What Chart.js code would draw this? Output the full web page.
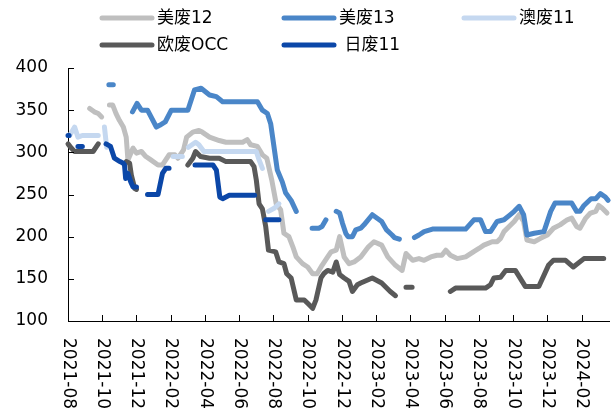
<!DOCTYPE html>
<html><head><meta charset="utf-8">
<script src="https://cdn.jsdelivr.net/npm/chart.js@4"></script>
<style>html,body{margin:0;padding:0;background:#fff}</style>
</head><body>
<canvas id="c" width="614" height="419" style="display:block;width:614px;height:419px"></canvas>
<script>
// ---------- data ----------
const seriesNames = ['美废12', '美废13', '澳废11', '欧废OCC', ' 日废11'];
const xTickLabels = ['2021-08','2021-10','2021-12','2022-02','2022-04','2022-06','2022-08','2022-10','2022-12','2023-02','2023-04','2023-06','2023-08','2023-10','2023-12','2024-02'];
const yTickValues = [100, 150, 200, 250, 300, 350, 400];

const us12Dates = ['2021-09-09','2021-09-17','2021-09-24','2021-09-30','2021-10-08',
 '2021-10-14','2021-10-20','2021-10-26','2021-11-01','2021-11-08','2021-11-13','2021-11-16','2021-11-25','2021-12-01','2021-12-10','2021-12-18','2021-12-27',
 '2022-01-09','2022-01-17','2022-01-23','2022-01-29','2022-02-08','2022-02-13','2022-02-22','2022-02-27','2022-03-10','2022-03-21','2022-03-27','2022-04-09','2022-04-26',
 '2022-05-08','2022-06-07','2022-06-15','2022-06-21','2022-07-03','2022-07-12','2022-07-20','2022-07-29','2022-08-06','2022-08-14','2022-08-20','2022-08-29',
 '2022-09-05','2022-09-11','2022-09-22','2022-10-01','2022-10-10','2022-10-18','2022-10-27','2022-11-06','2022-11-12','2022-11-21','2022-11-27','2022-12-05',
 '2022-12-14','2022-12-23','2023-01-04','2023-01-18','2023-01-28','2023-02-10','2023-02-20','2023-03-05','2023-03-17','2023-03-24','2023-04-05','2023-04-16',
 '2023-04-25','2023-05-07','2023-05-18','2023-05-27','2023-06-03','2023-06-11','2023-06-23','2023-07-08','2023-07-22','2023-08-01','2023-08-10','2023-08-25',
 '2023-09-03','2023-09-09','2023-09-15','2023-09-24','2023-10-03','2023-10-12','2023-10-20','2023-10-26','2023-11-08','2023-11-19','2023-12-01','2023-12-12',
 '2023-12-24','2024-01-06','2024-01-14','2024-01-23','2024-01-29','2024-02-08','2024-02-16','2024-02-25','2024-03-01','2024-03-07','2024-03-16'];
const us12Values = [352,348,346,342,null,
 356,356,346,338,330,318,291,305,299,301,295,291,
 285,285,291,297,297,293,303,318,324,326,324,318,314,
 312,312,315,309,307,297,293,267,239,232,204,200,
 188,176,168,164,156,156,166,176,182,184,200,176,
 168,170,176,188,194,190,176,166,160,180,172,174,
 172,176,178,178,184,178,174,176,182,186,190,194,
 194,198,206,212,218,226,218,196,194,198,202,210,
 214,220,222,212,210,222,228,230,237,234,228];

const us13Dates = ['2021-10-13','2021-10-21','2021-11-01',
 '2021-11-24','2021-12-02','2021-12-10','2021-12-21','2022-01-06','2022-01-12','2022-01-22','2022-02-02','2022-03-01','2022-03-13','2022-03-25',
 '2022-04-09','2022-04-21','2022-05-02','2022-07-03','2022-07-12','2022-07-21','2022-07-27','2022-08-08','2022-08-17','2022-08-23','2022-09-02','2022-09-11','2022-09-25',
 '2022-10-09','2022-10-21','2022-10-27','2022-11-03','2022-11-12',
 '2022-11-21','2022-11-27','2022-12-02','2022-12-08','2022-12-12','2022-12-20','2022-12-26','2023-01-04','2023-01-10','2023-01-25','2023-02-10','2023-02-18',
 '2023-02-27','2023-03-03','2023-03-12','2023-03-25',
 '2023-04-08','2023-04-16','2023-04-25','2023-05-10','2023-07-08','2023-07-23','2023-08-04','2023-08-13','2023-08-22','2023-09-03','2023-09-15','2023-09-24',
 '2023-10-03','2023-10-12','2023-10-20','2023-10-26','2023-11-08','2023-11-25','2023-12-07','2023-12-15','2024-01-14','2024-01-23','2024-01-29','2024-02-05',
 '2024-02-17','2024-02-25','2024-03-04','2024-03-13','2024-03-18'];
const us13Values = [380,380,null,
 348,358,350,350,330,332,336,350,350,374,376,
 368,366,360,360,350,346,334,279,265,252,243,230,null,
 210,210,212,220,null,
 230,228,216,204,200,200,208,210,214,226,218,208,
 202,199,197,null,
 199,202,206,209,209,220,220,206,206,218,220,225,
 230,236,226,202,204,206,230,240,240,230,230,237,
 245,245,251,247,243];

const au11Dates = ['2021-08-04','2021-08-13','2021-08-19','2021-08-27','2021-09-24','2021-10-01',
 '2021-10-05','2021-10-09','2021-10-20',
 '2022-02-05','2022-02-20','2022-02-27',
 '2022-03-02','2022-03-15','2022-03-21','2022-03-30','2022-07-01','2022-07-06','2022-07-12','2022-07-18',
 '2022-07-23','2022-08-03','2022-08-11'];
const au11Values = [320,330,318,320,320,null,
 330,306,null,
 295,295,null,
 306,312,309,301,301,291,281,null,
 230,234,239];

const euDates = ['2021-08-01','2021-08-07','2021-08-13','2021-09-15','2021-09-24','2021-10-10',
 '2021-11-13','2021-11-19','2021-11-22','2021-11-28','2021-12-01','2021-12-20',
 '2022-03-01','2022-03-10','2022-03-15','2022-03-24','2022-04-09','2022-04-26','2022-05-08','2022-06-21','2022-06-27','2022-07-01',
 '2022-07-06','2022-07-12','2022-07-18','2022-07-23','2022-08-05','2022-08-11','2022-08-20','2022-08-25','2022-09-02','2022-09-11',
 '2022-09-25','2022-10-01','2022-10-10','2022-10-16','2022-10-25','2022-10-30','2022-11-06','2022-11-15','2022-11-21','2022-11-27',
 '2022-12-05','2022-12-14','2022-12-20','2022-12-29','2023-01-04','2023-01-25','2023-02-10','2023-02-24','2023-03-05','2023-03-20',
 '2023-03-24','2023-04-04','2023-05-01',
 '2023-06-11','2023-06-20','2023-08-13','2023-08-22','2023-08-28','2023-09-09','2023-09-18','2023-10-05','2023-10-23','2023-11-16',
 '2023-12-03','2023-12-12','2024-01-03','2024-01-17','2024-02-05','2024-03-10'];
const euValues = [310,305,301,301,310,null,
 289,287,273,257,256,null,
 285,293,301,295,293,293,289,289,283,267,
 239,233,212,184,182,170,168,156,151,125,
 125,121,115,125,151,156,160,158,170,155,
 151,147,135,143,145,151,145,135,130,null,
 140,140,null,
 135,139,139,143,151,152,160,160,141,141,
 166,172,172,164,174,174];

const jp11Dates = ['2021-08-01','2021-08-03','2021-08-10',
 '2021-08-19','2021-08-27','2021-10-01',
 '2021-10-08','2021-10-16','2021-10-23','2021-11-02','2021-11-08','2021-11-10','2021-11-12','2021-11-16','2021-11-21','2021-11-25','2021-12-01','2021-12-07',
 '2021-12-21','2022-01-09','2022-01-17','2022-01-23','2022-01-29','2022-02-15',
 '2022-03-14','2022-04-15','2022-04-21','2022-04-27','2022-05-02','2022-05-14','2022-06-28','2022-07-10',
 '2022-07-18','2022-08-11'];
const jp11Values = [320,320,null,
 307,307,null,
 310,307,293,289,287,285,269,275,265,259,259,null,
 250,250,275,281,281,null,
 285,285,279,247,245,249,249,null,
 220,220];

// ---------- helpers ----------
function monthsSince(d) {
  const [yy, mm, dd] = d.split('-').map(Number);
  const dim = new Date(yy, mm, 0).getDate();
  return (yy - 2021) * 12 + (mm - 8) + (dd - 1) / dim;
}
function toPoints(dates, values) {
  return dates.map((d, i) => ({ x: monthsSince(d), y: values[i] }));
}

const seriesData = [
  toPoints(us12Dates, us12Values),
  toPoints(us13Dates, us13Values),
  toPoints(au11Dates, au11Values),
  toPoints(euDates, euValues),
  toPoints(jp11Dates, jp11Values)
];
const seriesColors = ['#bfbfbf', '#4a86c8', '#c5d8f0', '#595959', '#0b47a8'];

const FONT = '"DejaVu Sans", "Noto Sans CJK SC", sans-serif';

const legendPlugin = {
  id: 'customLegend',
  afterDraw(chart) {
    const ctx = chart.ctx;
    const slots = [[100, 18], [282, 18], [462, 18], [100, 45], [282, 45]];
    ctx.save();
    ctx.font = '17px ' + FONT;
    ctx.textBaseline = 'middle';
    ctx.textAlign = 'left';
    chart.data.datasets.forEach((ds, i) => {
      const [lx, ly] = slots[i];
      ctx.strokeStyle = ds.borderColor;
      ctx.lineWidth = 5;
      ctx.lineCap = 'round';
      ctx.beginPath();
      ctx.moveTo(lx + 2, ly);
      ctx.lineTo(lx + 52, ly);
      ctx.stroke();
      ctx.fillStyle = '#000';
      ctx.fillText(ds.label, lx + 57, ly + 1);
    });
    ctx.restore();
  }
};

const axisPlugin = {
  id: 'axisDeco',
  afterDraw(chart) {
    const { ctx, scales: { x, y }, chartArea: a } = chart;
    ctx.save();
    ctx.strokeStyle = '#000';
    ctx.lineWidth = 1;
    ctx.beginPath();
    xTickLabels.forEach((lab, i) => {
      const px = Math.round(x.getPixelForValue(i * 2)) + 0.5;
      ctx.moveTo(px, a.bottom);
      ctx.lineTo(px, a.bottom - 6);
    });
    yTickValues.forEach(v => {
      const py = Math.round(y.getPixelForValue(v)) + 0.5;
      ctx.moveTo(a.left, py);
      ctx.lineTo(a.left + 6, py);
    });
    ctx.stroke();
    ctx.fillStyle = '#000';
    ctx.font = '17px ' + FONT;
    ctx.textAlign = 'left';
    ctx.textBaseline = 'middle';
    xTickLabels.forEach((lab, i) => {
      const px = x.getPixelForValue(i * 2);
      ctx.save();
      ctx.translate(px, a.bottom + 17);
      ctx.rotate(Math.PI / 2);
      ctx.fillText(lab, 0, 0);
      ctx.restore();
    });
    ctx.restore();
  }
};

new Chart(document.getElementById('c'), {
  type: 'line',
  data: {
    datasets: seriesNames.map((name, i) => ({
      label: name,
      data: seriesData[i],
      borderColor: seriesColors[i],
      backgroundColor: seriesColors[i],
      borderWidth: 5,
      borderCapStyle: 'round',
      borderJoinStyle: 'round',
      pointRadius: 0,
      pointHoverRadius: 0,
      tension: 0,
      spanGaps: false,
      clip: false,
      order: 4 - i
    }))
  },
  options: {
    responsive: false,
    animation: false,
    events: [],
    layout: { padding: { top: 68, right: 5, bottom: 0, left: 0 } },
    plugins: { legend: { display: false }, tooltip: { enabled: false } },
    scales: {
      x: {
        type: 'linear',
        min: 0,
        max: 31.6,
        grid: { display: false, drawTicks: false },
        border: { display: true, color: '#000', width: 1 },
        ticks: { display: false, stepSize: 2 },
        afterFit(scale) { scale.height = 98; }
      },
      y: {
        min: 100,
        max: 400,
        grid: { display: false, drawTicks: false },
        border: { display: true, color: '#000', width: 1 },
        ticks: {
          stepSize: 50,
          padding: 20,
          color: '#000',
          font: { family: FONT, size: 17 },
          callback: (v) => yTickValues.includes(v) ? String(v) : ''
        },
        afterFit(scale) { scale.width = 68; }
      }
    }
  },
  plugins: [legendPlugin, axisPlugin]
});
</script>
</body></html>
